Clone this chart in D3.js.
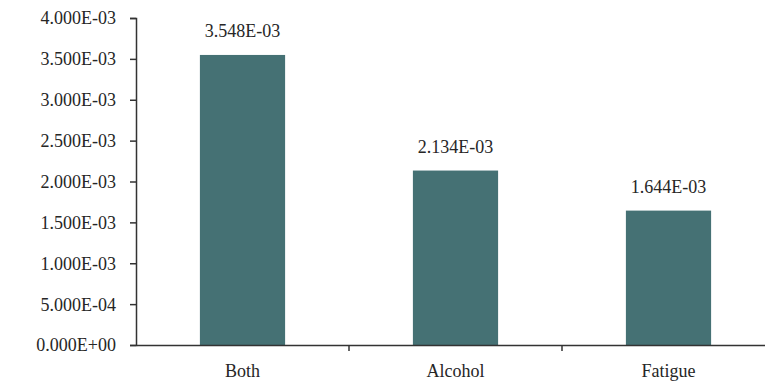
<html><head><meta charset="utf-8">
<script src="https://cdn.jsdelivr.net/npm/d3@7"></script></head>
<body style="margin:0">
<svg id="chart" width="765" height="385"></svg>
<script>
// Rates by impairment factor
const categories = ["Both", "Alcohol", "Fatigue"];
const values = [3.548e-3, 2.134e-3, 1.644e-3];
const valueLabels = ["3.548E-03", "2.134E-03", "1.644E-03"];
const yTickValues = [0, 5e-4, 1e-3, 1.5e-3, 2e-3, 2.5e-3, 3e-3, 3.5e-3, 4e-3];
const yTickLabels = ["0.000E+00", "5.000E-04", "1.000E-03", "1.500E-03", "2.000E-03",
                     "2.500E-03", "3.000E-03", "3.500E-03", "4.000E-03"];

const FONT = "Liberation Serif";
const textColor = "#262626";
const svg = d3.select("#chart");
const plot = { left: 136, right: 775, top: 18, bottom: 345 };

const x = d3.scaleBand()
  .domain(categories)
  .range([plot.left, plot.right])
  .paddingInner(0.6)
  .paddingOuter(0.3);

const y = d3.scaleLinear()
  .domain([0, 4e-3])
  .range([plot.bottom, plot.top]);

const barColor = "#457174";
const axisColor = "#333";

// bars
svg.append("g")
  .selectAll("rect")
  .data(categories)
  .join("rect")
  .attr("x", d => x(d))
  .attr("y", (d, i) => y(values[i]))
  .attr("width", x.bandwidth())
  .attr("height", (d, i) => y(0) - y(values[i]))
  .attr("fill", barColor);

// value labels above bars
const valueText = svg.append("g")
  .selectAll("text")
  .data(categories)
  .join("text")
  .attr("x", d => x(d) + x.bandwidth() / 2)
  .attr("y", (d, i) => y(values[i]) - 18)
  .attr("text-anchor", "middle")
  .attr("font-family", FONT)
  .attr("font-size", 18)
  .attr("fill", textColor)
  .text((d, i) => valueLabels[i]);

// y axis
const yAxis = d3.axisLeft(y)
  .tickValues(yTickValues)
  .tickSize(6)
  .tickPadding(14)
  .tickFormat((d, i) => yTickLabels[i]);

const gy = svg.append("g")
  .attr("transform", `translate(${plot.left},0)`)
  .call(yAxis)
  .attr("font-family", FONT)
  .attr("font-size", 18);
gy.select(".domain").attr("stroke", axisColor).attr("stroke-width", 1.5);
gy.selectAll(".tick line").attr("stroke", axisColor).attr("stroke-width", 1.5);
gy.selectAll(".tick text")
  .attr("font-family", FONT)
  .attr("font-size", 18)
  .attr("fill", textColor)
  .attr("dy", "0.33em");

// x axis
const xAxis = d3.axisBottom(x).tickSize(0).tickPadding(18).tickSizeOuter(0);
const gx = svg.append("g")
  .attr("transform", `translate(0,${plot.bottom})`)
  .call(xAxis)
  .attr("font-family", FONT)
  .attr("font-size", 18);
gx.select(".domain").attr("stroke", axisColor).attr("stroke-width", 1.5);
gx.selectAll(".tick text")
  .attr("y", 32)
  .attr("dy", 0)
  .attr("font-family", FONT)
  .attr("font-size", 18)
  .attr("fill", textColor);

// separators between categories
const step = x.step();
gx.append("g")
  .selectAll("line")
  .data(categories.slice(0, -1))
  .join("line")
  .attr("x1", d => x(d) + x.bandwidth() + (step - x.bandwidth()) / 2)
  .attr("x2", d => x(d) + x.bandwidth() + (step - x.bandwidth()) / 2)
  .attr("y1", 0)
  .attr("y2", 6)
  .attr("stroke", axisColor)
  .attr("stroke-width", 1.5);
</script>
</body></html>
